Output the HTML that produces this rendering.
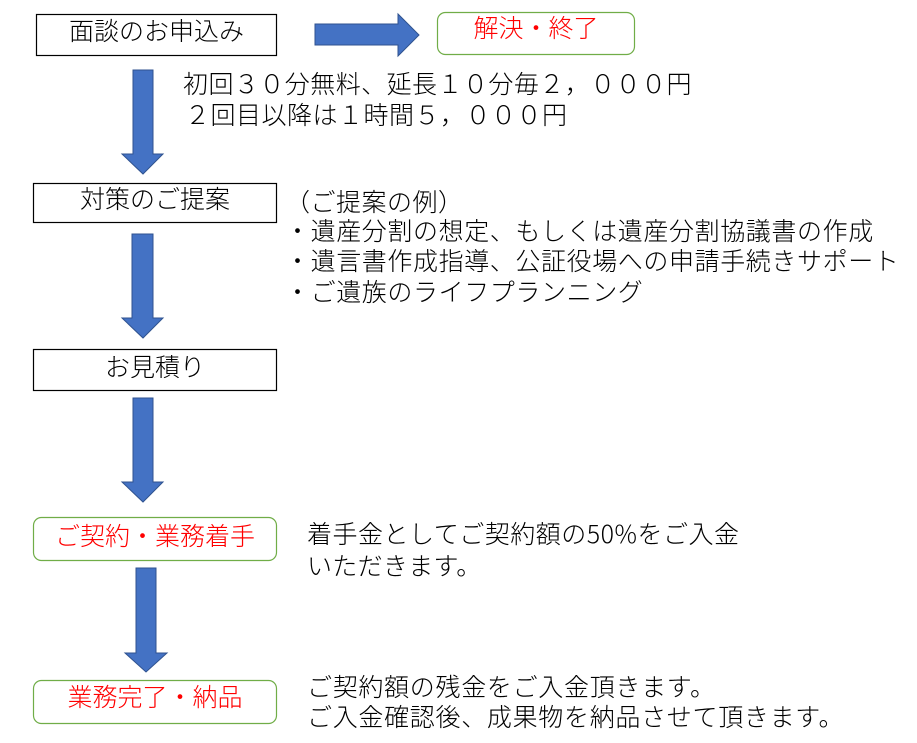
<!DOCTYPE html>
<html><head><meta charset="utf-8"><style>
html,body{margin:0;padding:0;background:#fff;}
body{width:917px;height:743px;position:relative;overflow:hidden;font-family:"Liberation Sans","Noto Sans CJK JP",sans-serif;}
.t{position:absolute;font-size:25px;line-height:30px;white-space:nowrap;color:#000;font-weight:300;}
.c{text-align:center;}
.r{color:#ff0000;}
.n{font-family:"Noto Sans CJK JP","Liberation Sans",sans-serif;font-weight:300;}
</style></head><body>
<svg width="917" height="743" style="position:absolute;left:0;top:0">
  <g fill="#fff" stroke="#000" stroke-width="1.2">
    <rect x="36.5" y="14.5" width="240" height="41"/>
    <rect x="33.5" y="183.5" width="243" height="39"/>
    <rect x="33.5" y="349.5" width="243" height="41"/>
  </g>
  <g fill="#fff" stroke="#70AD47" stroke-width="1.2">
    <rect x="437.5" y="12.5" width="197" height="42" rx="8"/>
    <rect x="33.5" y="517.5" width="243" height="43" rx="8"/>
    <rect x="33.5" y="680.5" width="243" height="43" rx="8"/>
  </g>
  <g fill="#4472C4" stroke="#2F528F" stroke-width="1">
    <polygon points="133,70 153,70 153,154 163,154 143,174 122,154 133,154"/>
    <polygon points="132,234 153,234 153,318 163,318 143,338 122,318 132,318"/>
    <polygon points="133,398 153,398 153,482 163,482 143,502 122,482 133,482"/>
    <polygon points="136,568 156,568 156,653 167,653 146,672 125,653 136,653"/>
    <polygon points="315,24 398,24 398,14 419,35 398,56 398,45 315,45"/>
  </g>
</svg>
<div class="t c" style="left:36px;width:241px;top:17px;">面談のお申込み</div>
<div class="t c r" style="left:437px;width:198px;top:14px;">解決・終了</div>
<div class="t" style="left:183px;top:70px;letter-spacing:0.45px;">初回３０分無料、延長１０分毎２，０００円</div>
<div class="t" style="left:185px;top:101px;letter-spacing:0.5px;">２回目以降は１時間５，０００円</div>
<div class="t c" style="left:33px;width:244px;top:185px;">対策のご提案</div>
<div class="t" style="left:285px;top:188px;letter-spacing:0.5px;">（ご提案の例）</div>
<div class="t" style="left:285px;top:217px;letter-spacing:0.6px;">・遺産分割の想定、もしくは遺産分割協議書の作成</div>
<div class="t" style="left:285px;top:247px;letter-spacing:0.6px;">・遺言書作成指導、公証役場への申請手続きサポート</div>
<div class="t" style="left:285px;top:278px;letter-spacing:0.6px;">・ご遺族のライフプランニング</div>
<div class="t c" style="left:33px;width:244px;top:353px;">お見積り</div>
<div class="t c r" style="left:33px;width:244px;top:522px;">ご契約・業務着手</div>
<div class="t" style="left:307px;top:518px;letter-spacing:0.5px;">着手金としてご契約額の<span class="n">50%</span>をご入金</div>
<div class="t" style="left:307px;top:552px;letter-spacing:0.3px;">いただきます。</div>
<div class="t c r" style="left:33px;width:244px;top:683px;">業務完了・納品</div>
<div class="t" style="left:307px;top:673px;letter-spacing:0.7px;">ご契約額の残金をご入金頂きます。</div>
<div class="t" style="left:307px;top:703px;letter-spacing:0.7px;">ご入金確認後、成果物を納品させて頂きます。</div>
</body></html>
